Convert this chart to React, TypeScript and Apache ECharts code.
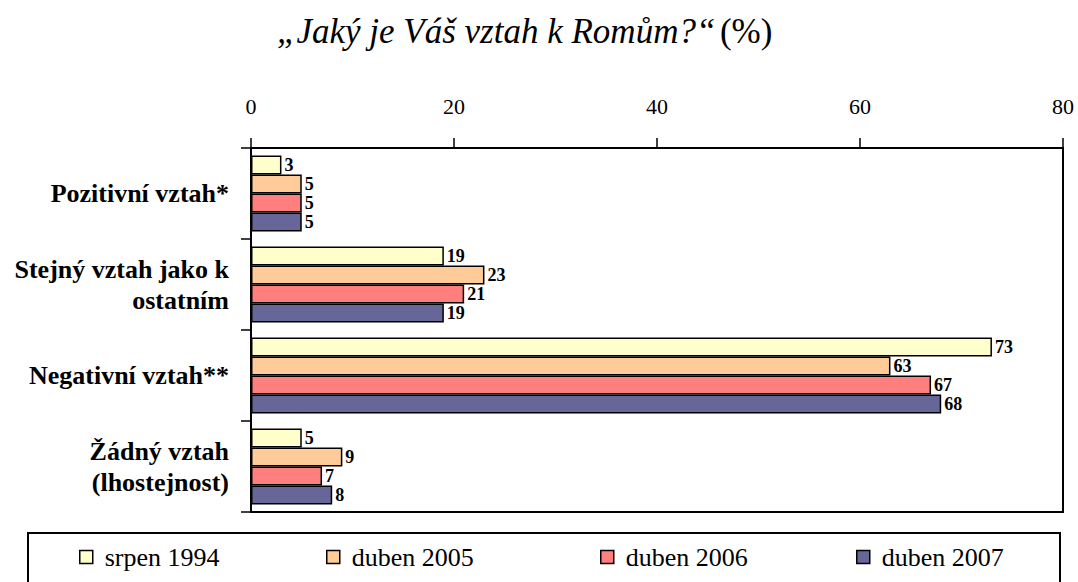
import React, { useEffect, useRef } from "react";
import * as echarts from "echarts";

const categories = [
  "Pozitivní vztah*",
  "Stejný vztah jako k\nostatním",
  "Negativní vztah**",
  "Žádný vztah\n(lhostejnost)",
];
const seriesNames = ["srpen 1994", "duben 2005", "duben 2006", "duben 2007"];
const srpen1994 = [3, 19, 73, 5];
const duben2005 = [5, 23, 63, 9];
const duben2006 = [5, 21, 67, 7];
const duben2007 = [5, 19, 68, 8];
const colors = ["#FFFFCC", "#FFCC99", "#FF7F7F", "#666699"];
const xTicks = [0, 20, 40, 60, 80];

const FONT = "Liberation Serif";

export default function App() {
  const ref = useRef<HTMLDivElement>(null);
  useEffect(() => {
    if (!ref.current) return;
    const chart = echarts.init(ref.current, null, { renderer: "svg" });
    const values = [srpen1994, duben2005, duben2006, duben2007];
    const legendLefts = [79, 326, 600, 856];
    chart.setOption({
      animation: false,
      backgroundColor: "#ffffff",
      textStyle: { fontFamily: FONT, color: "#000" },
      title: {
        text: "{i|„Jaký je Váš vztah k Romům?“} {n|(%)}",
        left: 272,
        top: 9,
        textStyle: {
          fontFamily: FONT,
          fontWeight: "normal",
          rich: {
            i: { fontFamily: FONT, fontStyle: "italic", fontWeight: "normal", fontSize: 35, color: "#000" },
            n: { fontFamily: FONT, fontWeight: "normal", fontSize: 35, color: "#000" },
          },
        },
      },
      graphic: [
        {
          type: "rect",
          shape: { x: 28, y: 533, width: 1032, height: 80 },
          style: { fill: "#fff", stroke: "#000", lineWidth: 2 },
          z: 0,
        },
      ],
      legend: seriesNames.map((n, i) => ({
        data: [n],
        left: legendLefts[i],
        top: 544,
        itemWidth: 13,
        itemHeight: 13,
        itemGap: 0,
        padding: 0,
        icon: "rect",
        itemStyle: { borderColor: "#000", borderWidth: 1.5 },
        textStyle: { fontFamily: FONT, fontSize: 26, color: "#000", padding: [0, 0, 0, 7] },
        z: 5,
      })),
      grid: {
        left: 251,
        right: 15,
        top: 148,
        bottom: 70,
        show: true,
        borderColor: "#000",
        borderWidth: 2,
        backgroundColor: "#fff",
      },
      xAxis: {
        type: "value",
        position: "top",
        min: 0,
        max: 80,
        interval: 20,
        splitLine: { show: false },
        axisLine: { show: true, lineStyle: { color: "#000", width: 2 } },
        axisTick: { show: true, length: 10, lineStyle: { color: "#000", width: 1.5 } },
        axisLabel: {
          margin: 31,
          fontFamily: FONT,
          fontSize: 22,
          color: "#000",
          formatter: (v: number) => (xTicks.includes(v) ? String(v) : ""),
        },
      },
      yAxis: {
        type: "category",
        data: categories,
        inverse: true,
        axisLine: { show: true, lineStyle: { color: "#000", width: 2 } },
        axisTick: { show: true, length: 10, lineStyle: { color: "#000", width: 1.5 } },
        axisLabel: {
          margin: 22,
          fontFamily: FONT,
          fontSize: 26,
          fontWeight: "bold",
          color: "#000",
          lineHeight: 31,
          align: "right",
        },
      },
      series: seriesNames.map((n, i) => ({
        type: "bar",
        name: n,
        data: values[i],
        barGap: "0%",
        barCategoryGap: "16.5%",
        itemStyle: { color: colors[i], borderColor: "#000", borderWidth: 1.5 },
        label: {
          show: true,
          position: "right",
          distance: 3,
          fontFamily: FONT,
          fontSize: 18,
          lineHeight: 16,
          fontWeight: "bold",
          color: "#000",
        },
      })),
    });
    return () => chart.dispose();
  }, []);
  return <div ref={ref} style={{ width: 1078, height: 582, position: "absolute", left: 0, top: 0 }} />;
}
